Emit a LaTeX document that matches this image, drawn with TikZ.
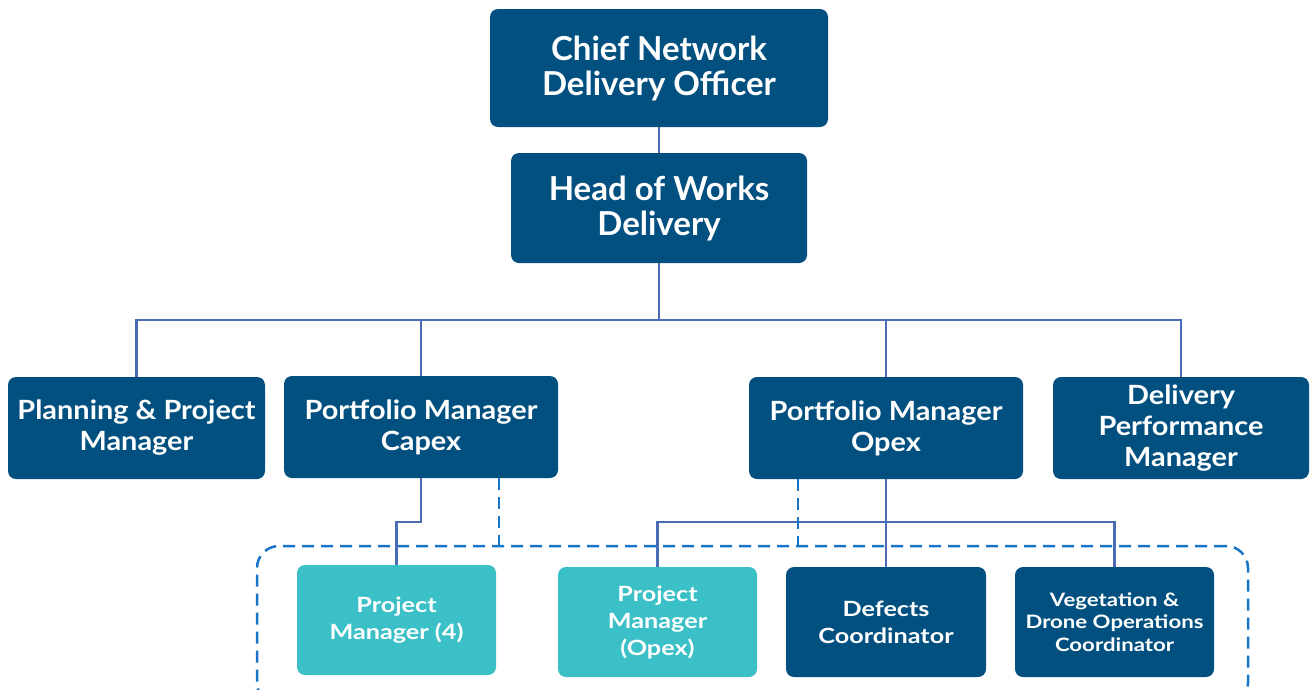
\documentclass[tikz,border=0pt]{standalone}
\usepackage{fontspec}
\setmainfont{Lato}
\newfontfamily\midfam{Lato}[FakeStretch=1.09]
\newfontfamily\lowfam{Lato}[FakeStretch=1.2]
\definecolor{navy}{HTML}{02507F}
\definecolor{teal}{HTML}{3BC0C7}
\definecolor{linkblue}{HTML}{4A6CB4}
\definecolor{dashblue}{HTML}{1874C6}
\begin{document}
\begin{tikzpicture}[x=1pt,y=-1pt,
  box/.style={rectangle, rounded corners=8pt, fill=navy, text=white, align=center, inner sep=0pt},
  tealbox/.style={box, fill=teal},
  topfont/.style={font=\bfseries\fontsize{33}{35}\selectfont},
  midfont/.style={font=\midfam\bfseries\fontsize{26.5}{31}\selectfont},
  lowfont/.style={font=\lowfam\bfseries\fontsize{21}{27}\selectfont},
  smallfont/.style={font=\lowfam\bfseries\fontsize{18.5}{22.5}\selectfont},
  conn/.style={draw=linkblue, line width=2.5pt},
  dashlink/.style={draw=dashblue, line width=2.5pt, dash pattern=on 12pt off 7pt},
  team/.style={rectangle, draw=dashblue, line width=2.5pt, dash pattern=on 12pt off 7pt, rounded corners=22pt, inner sep=0pt}]
\useasboundingbox (0,0) rectangle (1311,689);
\clip (0,0) rectangle (1311,689);

% dashed team frame (runs past the lower edge)
\node[team, minimum width=991pt, minimum height=159pt] (grp) at (752.5,625.5) {};

% top of the hierarchy
\node[box, topfont, minimum width=338pt, minimum height=118pt] (cndo) at (659,68) {Chief Network\\Delivery Officer};
\node[box, topfont, minimum width=296pt, minimum height=110pt] (hwd) at (659,208) {Head of Works\\Delivery};

% managers
\node[box, midfont, minimum width=257pt, minimum height=102pt] (ppm) at (136.5,428) {Planning \& Project\\Manager};
\node[box, midfont, minimum width=274pt, minimum height=102pt] (cap) at (421,427) {Portfolio Manager\\Capex};
\node[box, midfont, minimum width=274pt, minimum height=102pt] (opx) at (886,428) {Portfolio Manager\\Opex};
\node[box, midfont, minimum width=256pt, minimum height=102pt] (dpm) at (1181,428) {Delivery\\Performance\\Manager};

% team roles
\node[tealbox, lowfont, minimum width=199pt, minimum height=110pt] (pm4) at (396.5,620) {Project\\Manager (4)};
\node[tealbox, lowfont, minimum width=199pt, minimum height=110pt] (pmo) at (657.5,622) {Project\\Manager\\(Opex)};
\node[box, lowfont, minimum width=200pt, minimum height=110pt] (def) at (886,622) {Defects\\Coordinator};
\node[box, smallfont, minimum width=199pt, minimum height=110pt] (veg) at (1114.5,622) {Vegetation \&\\Drone Operations\\Coordinator};

% reporting lines
\coordinate (bus) at (659,320);
\coordinate (lowbus) at (0,522);
\draw[conn] (cndo.south) -- (hwd.north);
\draw[conn] (hwd.south) -- (bus);
\draw[conn] (ppm.north) |- (bus) -| (dpm.north);
\draw[conn] (cap.north) -- (cap.north |- bus);
\draw[conn] (opx.north) -- (opx.north |- bus);
\draw[conn] (cap.south) -- (cap.south |- lowbus) -| (pm4.north);
\draw[conn] (pmo.north) |- (veg.north |- lowbus) -- (veg.north);
\draw[conn] (opx.south) -- (def.north);

% dotted-line links into the team
\coordinate (capd) at (499,478);
\coordinate (opxd) at (798,479);
\draw[dashlink] (capd) -- (capd |- grp.north);
\draw[dashlink] (opxd) -- (opxd |- grp.north);
\end{tikzpicture}
\end{document}
